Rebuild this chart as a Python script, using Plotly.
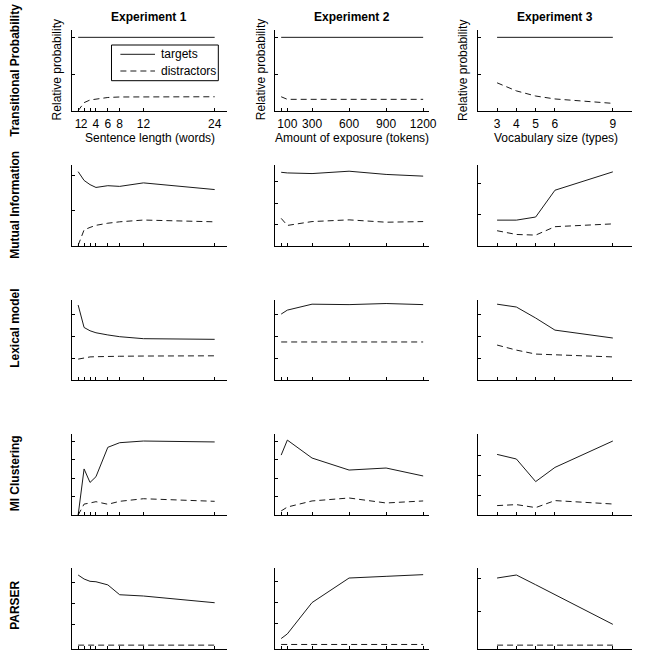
import plotly.graph_objects as go
from plotly.subplots import make_subplots

# ---------------- data ----------------
exp1_x = [1, 2, 3, 4, 6, 8, 12, 24]
exp2_x = [50, 100, 300, 600, 900, 1200]
exp3_x = [3, 4, 5, 6, 9]

exp1_tickvals = [1, 2, 3, 4, 6, 8, 12, 24]
exp1_ticktext = ["1", "2", "", "4", "6", "8", "12", "24"]
exp2_tickvals = [50, 100, 300, 600, 900, 1200]
exp2_ticktext = ["", "100", "300", "600", "900", "1200"]
exp3_tickvals = [3, 4, 5, 6, 9]
exp3_ticktext = ["3", "4", "5", "6", "9"]

experiments = ["Experiment 1", "Experiment 2", "Experiment 3"]
x_titles = ["Sentence length (words)", "Amount of exposure (tokens)", "Vocabulary size (types)"]
models = ["Transitional Probability", "Mutual Information", "Lexical model", "MI Clustering", "PARSER"]
legend_labels = ["targets", "distractors"]

tp_e1_targets = [1.0, 1.0, 1.0, 1.0, 1.0, 1.0, 1.0, 1.0]
tp_e1_distractors = [0.0, 0.11, 0.146, 0.16, 0.18, 0.187, 0.19, 0.19]
tp_e2_targets = [1.0, 1.0, 1.0, 1.0, 1.0, 1.0]
tp_e2_distractors = [0.19, 0.155, 0.155, 0.155, 0.155, 0.155]
tp_e3_targets = [1.0, 1.0, 1.0, 1.0, 1.0]
tp_e3_distractors = [0.38, 0.27, 0.20, 0.16, 0.10]

mi_e1_targets = [2.10, 1.85, 1.73, 1.65, 1.70, 1.68, 1.78, 1.59]
mi_e1_distractors = [0.0, 0.44, 0.51, 0.57, 0.63, 0.67, 0.72, 0.67]
mi_e2_targets = [3.44, 3.41, 3.38, 3.49, 3.34, 3.26]
mi_e2_distractors = [1.29, 0.96, 1.14, 1.22, 1.11, 1.14]
mi_e3_targets = [0.83, 0.83, 0.93, 1.79, 2.38]
mi_e3_distractors = [0.49, 0.37, 0.35, 0.62, 0.71]

lex_e1_targets = [3.41, 2.39, 2.24, 2.15, 2.05, 1.97, 1.88, 1.85]
lex_e1_distractors = [0.95, 1.01, 1.05, 1.06, 1.08, 1.08, 1.09, 1.10]
lex_e2_targets = [3.0, 3.18, 3.45, 3.43, 3.48, 3.43]
lex_e2_distractors = [1.73, 1.73, 1.73, 1.73, 1.73, 1.73]
lex_e3_targets = [3.45, 3.32, 2.82, 2.27, 1.91]
lex_e3_distractors = [1.59, 1.36, 1.18, 1.14, 1.05]

mic_e1_targets = [0.0, 2.49, 1.76, 2.07, 3.66, 3.91, 4.0, 3.95]
mic_e1_distractors = [0.0, 0.59, 0.65, 0.72, 0.58, 0.74, 0.88, 0.74]
mic_e2_targets = [3.24, 4.05, 3.08, 2.43, 2.54, 2.11]
mic_e2_distractors = [0.22, 0.43, 0.76, 0.92, 0.65, 0.76]
mic_e3_targets = [3.03, 2.80, 1.67, 2.38, 3.70]
mic_e3_distractors = [0.47, 0.52, 0.37, 0.72, 0.55]

parser_e1_targets = [3.34, 3.15, 3.04, 3.02, 2.87, 2.40, 2.34, 2.02]
parser_e1_distractors = [0, 0, 0, 0, 0, 0, 0, 0]
parser_e2_targets = [0.28, 0.50, 1.98, 3.14, 3.22, 3.30]
parser_e2_distractors = [0, 0, 0, 0, 0, 0]
parser_e3_targets = [2.00, 2.09, 1.80, 1.51, 0.62]
parser_e3_distractors = [0, 0, 0, 0, 0]

# ---------------- layout config ----------------
W, H = 650, 653
FONT = "Liberation Sans, Arial, Helvetica, sans-serif"
col_px = [(73, 229), (278, 434), (483, 639)]
row_px = [(30, 110.7), (165, 246), (300, 380), (434, 515), (568.3, 648.5)]
x_ranges = [[0, 26], [0, 1250], [2, 10]]
y_cfg = {
    (0, 0): ([0, 1.1], [0.5, 1]), (0, 1): ([0, 1.1], [0.5, 1]), (0, 2): ([0, 1.1], [0.5, 1]),
    (1, 0): ([-0.02, 2.29], [1, 2]), (1, 1): ([0, 3.78], [1, 2, 3]), (1, 2): ([0, 2.6], [1, 2]),
    (2, 0): ([0, 3.64], [1, 2, 3]), (2, 1): ([0, 3.64], [1, 2, 3]), (2, 2): ([0, 3.64], [1, 2, 3]),
    (3, 0): ([0, 4.38], [1, 2, 3, 4]), (3, 1): ([0, 4.38], [1, 2, 3, 4]), (3, 2): ([0, 4.05], [1, 2, 3]),
    (4, 0): ([-0.16, 3.66], [1, 2, 3]), (4, 1): ([-0.19, 3.6], [1, 2, 3]), (4, 2): ([-0.1, 2.29], [1, 2]),
}

xs = [exp1_x, exp2_x, exp3_x]
tickvals = [exp1_tickvals, exp2_tickvals, exp3_tickvals]
ticktexts = [exp1_ticktext, exp2_ticktext, exp3_ticktext]
series = [
    [(tp_e1_targets, tp_e1_distractors), (tp_e2_targets, tp_e2_distractors), (tp_e3_targets, tp_e3_distractors)],
    [(mi_e1_targets, mi_e1_distractors), (mi_e2_targets, mi_e2_distractors), (mi_e3_targets, mi_e3_distractors)],
    [(lex_e1_targets, lex_e1_distractors), (lex_e2_targets, lex_e2_distractors), (lex_e3_targets, lex_e3_distractors)],
    [(mic_e1_targets, mic_e1_distractors), (mic_e2_targets, mic_e2_distractors), (mic_e3_targets, mic_e3_distractors)],
    [(parser_e1_targets, parser_e1_distractors), (parser_e2_targets, parser_e2_distractors), (parser_e3_targets, parser_e3_distractors)],
]

fig = make_subplots(rows=5, cols=3)
LINE_COLOR = "#1a1a1a"
DASH = "6px,4px"

for r in range(5):
    for c in range(3):
        tgt, dis = series[r][c]
        fig.add_trace(go.Scatter(x=xs[c], y=tgt, mode="lines", name=legend_labels[0],
                                 line=dict(color=LINE_COLOR, width=1),
                                 showlegend=False, hoverinfo="skip"), row=r + 1, col=c + 1)
        fig.add_trace(go.Scatter(x=xs[c], y=dis, mode="lines", name=legend_labels[1],
                                 line=dict(color=LINE_COLOR, width=1, dash=DASH),
                                 showlegend=False, hoverinfo="skip"), row=r + 1, col=c + 1)

for r in range(5):
    for c in range(3):
        n = r * 3 + c + 1
        sfx = "" if n == 1 else str(n)
        x0, x1 = col_px[c]
        y0, y1 = row_px[r]
        yr, yt = y_cfg[(r, c)]
        fig.layout["xaxis" + sfx].update(
            domain=[x0 / W, x1 / W], range=x_ranges[c], showgrid=False, zeroline=False,
            showline=True, linecolor="black", linewidth=1, ticks="inside", ticklen=3,
            tickcolor="black", tickmode="array", tickvals=tickvals[c],
            ticktext=ticktexts[c] if r == 0 else [""] * len(tickvals[c]),
            showticklabels=(r == 0), tickangle=0, ticklabelstandoff=2,
            tickfont=dict(size=12, color="black", family=FONT))
        fig.layout["yaxis" + sfx].update(
            domain=[1 - y1 / H, 1 - y0 / H], range=yr, showgrid=False, zeroline=False,
            showline=True, linecolor="black", linewidth=1, ticks="inside", ticklen=3,
            tickcolor="black", tickmode="array", tickvals=yt, showticklabels=False)

ann = []
exp_centers = [151, 356, 561]
for c in range(3):
    ann.append(dict(text="<b>%s</b>" % experiments[c], x=exp_centers[c] / W, y=1 - 16.7 / H,
                    xref="paper", yref="paper", showarrow=False, xanchor="center", yanchor="middle",
                    font=dict(size=12, family=FONT, color="black")))
xt_centers = [151.7, 356, 562]
for c in range(3):
    ann.append(dict(text=x_titles[c], x=xt_centers[c] / W, y=1 - 137.5 / H,
                    xref="paper", yref="paper", showarrow=False, xanchor="center", yanchor="middle",
                    font=dict(size=12, family=FONT, color="black")))
yt_centers = [58, 264, 468]
for c in range(3):
    ann.append(dict(text="Relative probability", x=yt_centers[c] / W, y=1 - 70 / H, textangle=-90,
                    xref="paper", yref="paper", showarrow=False, xanchor="center", yanchor="middle",
                    font=dict(size=12, family=FONT, color="black")))
model_centers = [70, 205, 328, 473.5, 605]
for r in range(5):
    ann.append(dict(text="<b>%s</b>" % models[r], x=15 / W, y=1 - model_centers[r] / H, textangle=-90,
                    xref="paper", yref="paper", showarrow=False, xanchor="center", yanchor="middle",
                    font=dict(size=12, family=FONT, color="black")))

# legend (box with line samples and labels), placed in the first panel
shapes = [dict(type="rect", xref="paper", yref="paper",
               x0=112.7 / W, x1=220.7 / W, y0=1 - 80.7 / H, y1=1 - 45 / H,
               line=dict(color="black", width=1), fillcolor="white", layer="above")]
leg_rows = [54.3, 71]
for i, lab in enumerate(legend_labels):
    shapes.append(dict(type="line", xref="paper", yref="paper",
                       x0=121.7 / W, x1=156.7 / W, y0=1 - leg_rows[i] / H, y1=1 - leg_rows[i] / H,
                       line=dict(color=LINE_COLOR, width=1, dash=("solid" if i == 0 else DASH)),
                       layer="above"))
    ann.append(dict(text=lab, x=160.7 / W, y=1 - leg_rows[i] / H, xref="paper", yref="paper",
                    showarrow=False, xanchor="left", yanchor="middle",
                    font=dict(size=12, family=FONT, color="black")))

fig.update_layout(
    width=W, height=H, margin=dict(l=0, r=0, t=0, b=0),
    paper_bgcolor="white", plot_bgcolor="white",
    font=dict(family=FONT, size=12, color="black"),
    annotations=ann, shapes=shapes, showlegend=False,
)

fig.write_html("out.html")
